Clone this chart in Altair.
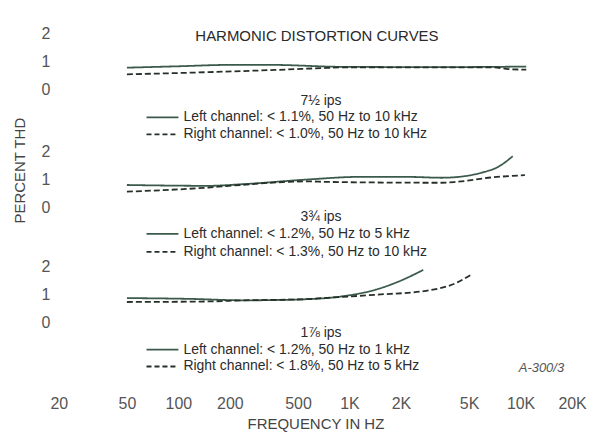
import altair as alt
import pandas as pd

# ---------------- data ----------------
speeds = ["7½ ips", "3¾ ips", "1⅞ ips"]
left_notes = ["Left channel: < 1.1%, 50 Hz to 10 kHz",
              "Left channel: < 1.2%, 50 Hz to 5 kHz",
              "Left channel: < 1.2%, 50 Hz to 1 kHz"]
right_notes = ["Right channel: < 1.0%, 50 Hz to 10 kHz",
               "Right channel: < 1.3%, 50 Hz to 10 kHz",
               "Right channel: < 1.8%, 50 Hz to 5 kHz"]

# 7 1/2 ips
freq_l1 = [50, 100, 200, 350, 900, 3500, 10800]
thd_l1 = [0.78, 0.83, 0.88, 0.88, 0.81, 0.80, 0.82]
freq_r1 = [50, 150, 370, 730, 900, 3500, 7000, 8500, 10800]
thd_r1 = [0.54, 0.62, 0.70, 0.77, 0.79, 0.79, 0.79, 0.73, 0.71]

# 3 3/4 ips
freq_l2 = [50, 150, 240, 580, 1130, 2200, 3450, 4500, 5900, 7400, 9000]
thd_l2 = [0.79, 0.76, 0.82, 0.99, 1.08, 1.08, 1.05, 1.09, 1.23, 1.44, 1.82]
freq_r2 = [50, 150, 190, 580, 730, 3450, 4200, 6750, 10600]
thd_r2 = [0.55, 0.70, 0.75, 0.92, 0.90, 0.87, 0.90, 1.06, 1.14]

# 1 7/8 ips
freq_l3 = [50, 120, 240, 500, 900, 1420, 1950, 2700]
thd_l3 = [0.88, 0.85, 0.80, 0.83, 0.94, 1.18, 1.48, 1.89]
freq_r3 = [50, 150, 240, 500, 790, 1420, 2800, 4300, 5200]
thd_r3 = [0.74, 0.76, 0.80, 0.83, 0.90, 1.00, 1.14, 1.45, 1.74]

x_ticks = [20, 50, 100, 200, 500, 1000, 2000, 5000, 10000, 20000]
y_ticks_panel = [0, 1, 2]

series = [(freq_l1, thd_l1, freq_r1, thd_r1),
          (freq_l2, thd_l2, freq_r2, thd_r2),
          (freq_l3, thd_l3, freq_r3, thd_r3)]
rows = []
for p, (fl, tl, fr, tr) in enumerate(series):
    for f, t in zip(fl, tl):
        rows.append({"panel": p, "channel": "Left", "freq": f, "thd": t})
    for f, t in zip(fr, tr):
        rows.append({"panel": p, "channel": "Right", "freq": f, "thd": t})
df = pd.DataFrame(rows)

# ---------------- layout / style ----------------
FONT = "Liberation Sans, Arial, sans-serif"
C_SOLID = "#3b5a4c"
C_DASH = "#263028"
TXT = "#2b2b2b"
LBL = "#555555"
offsets = [8.357, 4.143, 0.0]          # vertical offset of each panel (THD units)
y_domain = [-2.393, 10.821]
W, H = 515, 370

y_ticks = [o + v for o in offsets for v in y_ticks_panel]
off_expr = (f"datum.panel == 0 ? {offsets[0]} : datum.panel == 1 ? {offsets[1]} : {offsets[2]}")
y_label_expr = (f"round(datum.value >= 8 ? datum.value - {offsets[0]} : "
                f"datum.value >= 4 ? datum.value - {offsets[1]} : datum.value)")

lines = alt.Chart(df).transform_calculate(
    yy=f"datum.thd + ({off_expr})"
).mark_line(interpolate="monotone", strokeWidth=1.8).encode(
    x=alt.X("freq:Q",
            scale=alt.Scale(type="log", domain=[20, 20000], nice=False),
            axis=alt.Axis(values=x_ticks,
                          labelExpr="datum.value >= 1000 ? (datum.value / 1000) + 'K' : datum.value",
                          title="FREQUENCY IN HZ", domain=False, ticks=False, grid=False,
                          labelFont=FONT, labelFontSize=16, labelColor=LBL,
                          labelPadding=6, labelFlush=False, labelOverlap=False,
                          titleFont=FONT, titleFontSize=15, titleFontWeight="normal",
                          titleColor="#444444", titlePadding=5)),
    y=alt.Y("yy:Q",
            scale=alt.Scale(domain=y_domain, nice=False, zero=False),
            axis=alt.Axis(values=y_ticks, labelExpr=y_label_expr,
                          title="PERCENT THD", titleX=-39, titleY=150, titleAngle=270,
                          titleAlign="center", titleBaseline="middle",
                          domain=False, ticks=False, grid=False,
                          labelFont=FONT, labelFontSize=16, labelColor=LBL,
                          labelPadding=9, labelOverlap=False,
                          titleFont=FONT, titleFontSize=15, titleFontWeight="normal",
                          titleColor="#444444")),
    color=alt.Color("channel:N", scale=alt.Scale(domain=["Left", "Right"], range=[C_SOLID, C_DASH]),
                    legend=None),
    strokeDash=alt.StrokeDash("channel:N",
                              scale=alt.Scale(domain=["Left", "Right"], range=[[1, 0], [6, 3]]),
                              legend=None),
    detail="panel:N",
)

one = alt.Data(values=[{}])


def label(txt, px, py, size=14, align="left", color=TXT, style="normal"):
    return alt.Chart(one).mark_text(text=txt, align=align, baseline="middle", fontSize=size,
                                    font=FONT, color=color, fontStyle=style).encode(
        x=alt.value(px), y=alt.value(py))


def swatch(py, dash, color):
    return alt.Chart(one).mark_rule(color=color, strokeWidth=1.8, strokeDash=dash).encode(
        x=alt.value(88), x2=alt.value(120), y=alt.value(py))


# per-panel annotation rows: (speed y, left-note y, right-note y) in plot pixels
note_y = [(81, 97, 114), (197, 214, 232), (313, 330, 347)]

layers = [lines, label("HARMONIC DISTORTION CURVES", 259, 15, size=15, align="center", color="#2a2a2a")]
for i in range(3):
    ys, yl, yr = note_y[i]
    layers.append(label(speeds[i], 263, ys, align="center"))
    layers.append(swatch(yl, [1, 0], C_SOLID))
    layers.append(swatch(yr, [5, 3], C_DASH))
    layers.append(label(left_notes[i], 125, yl))
    layers.append(label(right_notes[i], 125, yr))
layers.append(label("A-300/3", 507, 349, size=13, align="right", color=LBL, style="italic"))

chart = alt.layer(*layers).properties(
    width=W, height=H,
    padding={"left": 51, "top": 12, "right": 17, "bottom": 43},
    autosize=alt.AutoSizeParams(type="none"),
    background="white",
).configure_view(strokeWidth=0)

chart.save("out.html", embed_options={"renderer": "svg", "actions": False})
